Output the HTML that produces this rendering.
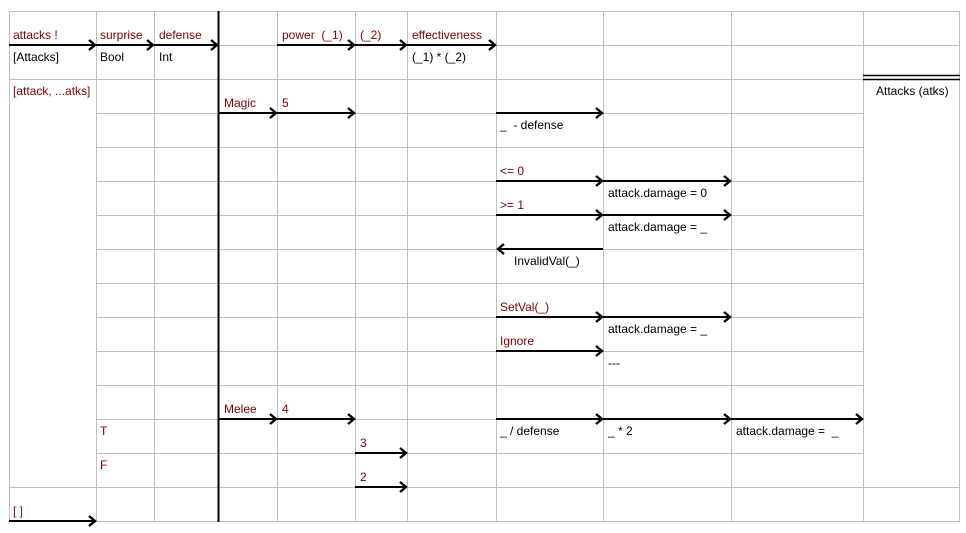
<!DOCTYPE html>
<html><head><meta charset="utf-8"><style>
html,body{margin:0;padding:0;background:#fff}
svg{display:block}
text{font-family:"Liberation Sans",Arial,sans-serif;font-size:12px;white-space:pre}
.r{fill:#800000}.k{fill:#000}
</style></head><body>
<svg width="966" height="533" viewBox="0 0 966 533" xmlns="http://www.w3.org/2000/svg">
<defs>
<marker id="a" markerWidth="10" markerHeight="12" refX="8" refY="6" orient="auto" markerUnits="userSpaceOnUse">
<path d="M2,1 L8,6 L2,11" fill="none" stroke="#000" stroke-width="2.4"/>
</marker>
</defs>
<g stroke="#c0c0c0" stroke-width="1" shape-rendering="crispEdges">
<line x1="9.5" y1="11" x2="9.5" y2="521"/>
<line x1="96.5" y1="11" x2="96.5" y2="521"/>
<line x1="154.5" y1="11" x2="154.5" y2="521"/>
<line x1="277.5" y1="11" x2="277.5" y2="521"/>
<line x1="355.5" y1="11" x2="355.5" y2="521"/>
<line x1="407.5" y1="11" x2="407.5" y2="521"/>
<line x1="496.5" y1="11" x2="496.5" y2="521"/>
<line x1="603.5" y1="11" x2="603.5" y2="521"/>
<line x1="731.5" y1="11" x2="731.5" y2="521"/>
<line x1="863.5" y1="11" x2="863.5" y2="521"/>
<line x1="959.5" y1="11" x2="959.5" y2="521"/>
<line x1="9" y1="11.5" x2="960" y2="11.5"/>
<line x1="9" y1="45.5" x2="960" y2="45.5"/>
<line x1="9" y1="79.5" x2="960" y2="79.5"/>
<line x1="9" y1="487.5" x2="960" y2="487.5"/>
<line x1="9" y1="521.5" x2="960" y2="521.5"/>
<line x1="96" y1="113.5" x2="863" y2="113.5"/>
<line x1="96" y1="147.5" x2="863" y2="147.5"/>
<line x1="96" y1="181.5" x2="863" y2="181.5"/>
<line x1="96" y1="215.5" x2="863" y2="215.5"/>
<line x1="96" y1="249.5" x2="863" y2="249.5"/>
<line x1="96" y1="283.5" x2="863" y2="283.5"/>
<line x1="96" y1="317.5" x2="863" y2="317.5"/>
<line x1="96" y1="351.5" x2="863" y2="351.5"/>
<line x1="96" y1="385.5" x2="863" y2="385.5"/>
<line x1="96" y1="419.5" x2="863" y2="419.5"/>
<line x1="96" y1="453.5" x2="863" y2="453.5"/>
</g>
<line x1="218.5" y1="11" x2="218.5" y2="522" stroke="#000" stroke-width="2"/>
<line x1="863" y1="75.5" x2="960" y2="75.5" stroke="#000" stroke-width="1.5"/>
<line x1="863" y1="79.5" x2="960" y2="79.5" stroke="#000" stroke-width="1.5"/>
<g stroke="#000" stroke-width="2" marker-end="url(#a)">
<line x1="9" y1="45" x2="95" y2="45"/>
<line x1="96" y1="45" x2="153" y2="45"/>
<line x1="154" y1="45" x2="217" y2="45"/>
<line x1="277" y1="45" x2="354" y2="45"/>
<line x1="355" y1="45" x2="406" y2="45"/>
<line x1="407" y1="45" x2="495" y2="45"/>
<line x1="219" y1="113" x2="276" y2="113"/>
<line x1="277" y1="113" x2="354" y2="113"/>
<line x1="496" y1="113" x2="602" y2="113"/>
<line x1="496" y1="181" x2="602" y2="181"/>
<line x1="603" y1="181" x2="730" y2="181"/>
<line x1="496" y1="215" x2="602" y2="215"/>
<line x1="603" y1="215" x2="730" y2="215"/>
<line x1="603" y1="249" x2="498" y2="249"/>
<line x1="496" y1="317" x2="602" y2="317"/>
<line x1="603" y1="317" x2="730" y2="317"/>
<line x1="496" y1="351" x2="602" y2="351"/>
<line x1="219" y1="419" x2="276" y2="419"/>
<line x1="277" y1="419" x2="354" y2="419"/>
<line x1="496" y1="419" x2="602" y2="419"/>
<line x1="603" y1="419" x2="730" y2="419"/>
<line x1="731" y1="419" x2="862" y2="419"/>
<line x1="355" y1="453" x2="406" y2="453"/>
<line x1="355" y1="487" x2="406" y2="487"/>
<line x1="9" y1="521" x2="95" y2="521"/>
</g>
<g class="r">
<text x="13" y="39">attacks !</text>
<text x="100" y="39">surprise</text>
<text x="159" y="39">defense</text>
<text x="282" y="39">power  (_1)</text>
<text x="360" y="39">(_2)</text>
<text x="412" y="39">effectiveness</text>
<text x="13" y="95">[attack, ...atks]</text>
<text x="224" y="107">Magic</text>
<text x="282" y="107">5</text>
<text x="500" y="175">&lt;= 0</text>
<text x="500" y="209">&gt;= 1</text>
<text x="500" y="311">SetVal(_)</text>
<text x="500" y="345">Ignore</text>
<text x="224" y="413">Melee</text>
<text x="282" y="413">4</text>
<text x="100" y="435">T</text>
<text x="100" y="469">F</text>
<text x="360" y="447">3</text>
<text x="360" y="481">2</text>
<text x="13" y="515">[ ]</text>
</g>
<g class="k">
<text x="13" y="61">[Attacks]</text>
<text x="100" y="61">Bool</text>
<text x="159" y="61">Int</text>
<text x="412" y="61">(_1) * (_2)</text>
<text x="500" y="129">_  - defense</text>
<text x="608" y="197">attack.damage = 0</text>
<text x="608" y="231">attack.damage = _</text>
<text x="514" y="265">InvalidVal(_)</text>
<text x="608" y="333">attack.damage = _</text>
<text x="608" y="367">---</text>
<text x="500" y="435">_ / defense</text>
<text x="608" y="435">_ * 2</text>
<text x="736" y="435">attack.damage =  _</text>
<text x="876" y="95">Attacks (atks)</text>
</g>
</svg>
</body></html>
